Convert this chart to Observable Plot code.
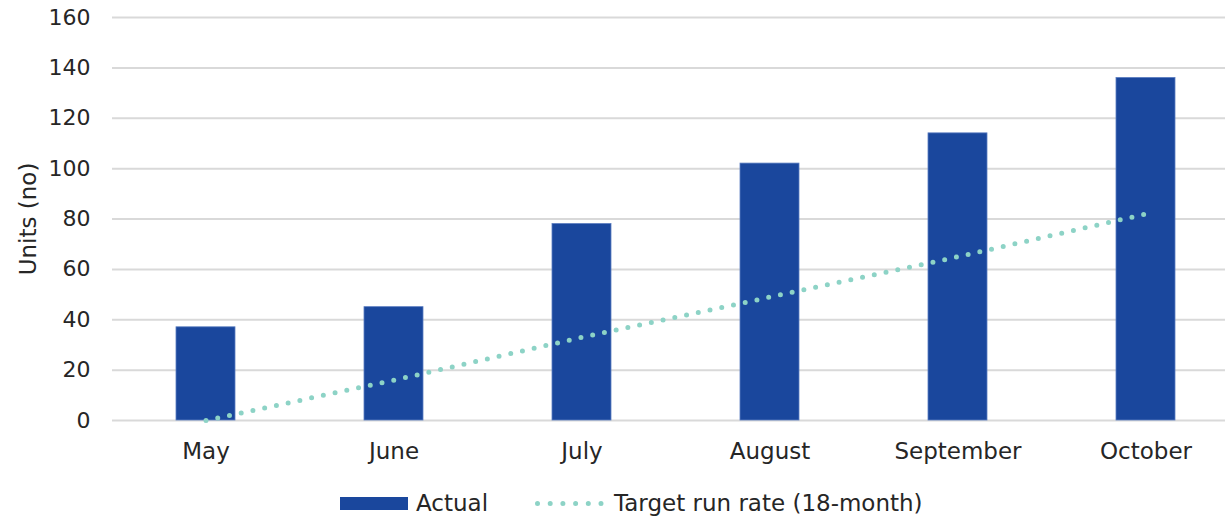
<!DOCTYPE html>
<html>
<head>
<meta charset="utf-8">
<script src="https://cdn.jsdelivr.net/npm/d3@7"></script>
<script src="https://cdn.jsdelivr.net/npm/@observablehq/plot@0.6"></script>
<style>
  html, body { margin: 0; padding: 0; background: #fff; }
  body { width: 1225px; height: 518px; overflow: hidden; font-family: "DejaVu Sans", sans-serif; color: #262626; }
  #legend { position: relative; height: 48px; font-size: 23px; }
  .item { position: absolute; top: 18px; display: flex; align-items: center; height: 30px; }
</style>
</head>
<body>
<div id="chart"></div>
<div id="legend"></div>
<script>
const months = ["May", "June", "July", "August", "September", "October"];
const actual = [37, 45, 78, 102, 114, 136];
const target = [0, 16, 33, 49, 65, 82];
const yTicks = [0, 20, 40, 60, 80, 100, 120, 140, 160];
const seriesNames = ["Actual", "Target run rate (18-month)"];
const colors = ["#1a479d", "#8dd3c6"];

const data = months.map((m, i) => ({month: m, actual: actual[i], target: target[i]}));

const chart = Plot.plot({
  width: 1225,
  height: 470,
  marginLeft: 112,
  marginRight: 0,
  marginTop: 17,
  marginBottom: 50,
  style: {fontFamily: "DejaVu Sans, sans-serif", fontSize: "20px", color: "#262626", background: "#fff"},
  x: {domain: months, range: [112, 1240], paddingInner: 0.686, paddingOuter: 0.343, label: null},
  y: {domain: [0, 160], label: null},
  marks: [
    Plot.ruleY(yTicks, {stroke: "#d9d9d9", strokeWidth: 2}),
    Plot.barY(data, {x: "month", y: "actual", fill: colors[0], stroke: "#5b7dc0", strokeWidth: 0.8}),
    Plot.line(data, {x: "month", y: "target", stroke: colors[1], strokeWidth: 5, strokeDasharray: "0 12", strokeLinecap: "round"}),
    Plot.axisY({ticks: yTicks, tickSize: 0, tickPadding: 22, fontSize: 22, label: null}),
    Plot.axisX({tickSize: 0, tickPadding: 22, fontSize: 23, label: null}),
    Plot.text(["Units (no)"], {frameAnchor: "left", dx: -84, rotate: -90, textAnchor: "middle", fontSize: 23, fill: "#262626"})
  ]
});
document.getElementById("chart").appendChild(chart);

const legend = document.getElementById("legend");
const i1 = document.createElement("div");
i1.className = "item";
i1.style.left = "340px";
i1.innerHTML = `<svg width="68" height="13" style="margin-right:8px"><rect x="0" y="0" width="68" height="13" fill="${colors[0]}"/></svg><span>${seriesNames[0]}</span>`;
legend.appendChild(i1);
const i2 = document.createElement("div");
i2.className = "item";
i2.style.left = "532px";
i2.innerHTML = `<svg width="75" height="13" style="margin-right:7px"><line x1="5.5" y1="6.5" x2="71" y2="6.5" stroke="${colors[1]}" stroke-width="5" stroke-dasharray="0 12.7" stroke-linecap="round"/></svg><span>${seriesNames[1]}</span>`;
legend.appendChild(i2);
</script>
</body>
</html>
